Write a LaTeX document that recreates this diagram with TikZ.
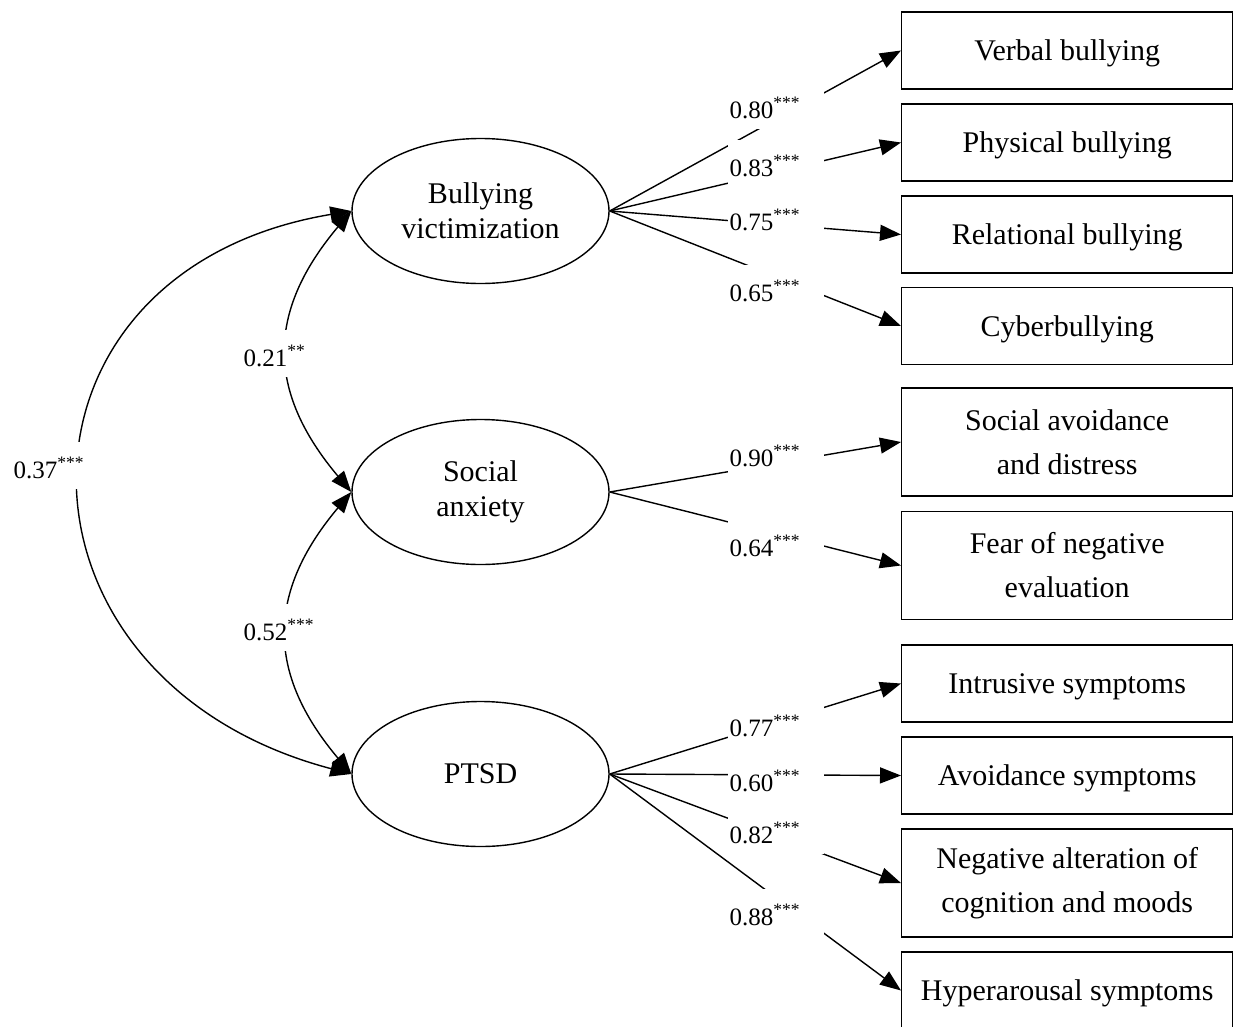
\documentclass[tikz,border=0pt]{standalone}
\usepackage{fontspec}
\setmainfont{Liberation Serif}
\usetikzlibrary{shapes.geometric,arrows.meta}
\begin{document}
\begin{tikzpicture}[x=1pt,y=1pt,line width=1.4pt,
  lat/.style={ellipse, draw, minimum width=257pt, minimum height=145pt, inner sep=0pt, align=center, font=\fontsize{30}{35}\selectfont},
  boxbase/.style={rectangle, draw, minimum width=331pt, inner sep=0pt, align=center, anchor=west, font=\fontsize{30}{44}\selectfont},
  obs/.style={boxbase, minimum height=77pt, text depth=0pt},
  obstwo/.style={boxbase, minimum height=108pt},
  lab/.style={fill=white, inner xsep=2pt, inner ysep=0pt, text width=92pt, align=left, text height=36pt, text depth=11pt, anchor=base west, font=\fontsize{25}{29}\selectfont},
  arr/.style={-{Triangle[length=21pt,width=16pt]}},
  cov/.style={{Triangle[length=21pt,width=16pt]}-{Triangle[length=21pt,width=16pt]}}
]
\useasboundingbox (0,0) rectangle (1234,-1026);
% latent variables
\node[lat] (bv) at (480.5,-211) {Bullying\\victimization};
\node[lat] (sa) at (480.5,-492) {Social\\anxiety};
\node[lat] (pt) at (480.5,-774) {PTSD};
% indicators
\node[obs] (o1) at (901,-50.5) {Verbal bullying};
\node[obs] (o2) at (901,-142.5) {Physical bullying};
\node[obs] (o3) at (901,-234.5) {Relational bullying};
\node[obs] (o4) at (901,-326) {Cyberbullying};
\node[obstwo] (o5) at (901,-442) {Social avoidance\\and distress};
\node[obstwo] (o6) at (901,-565.5) {Fear of negative\\evaluation};
\node[obs] (o7) at (901,-683.5) {Intrusive symptoms};
\node[obs] (o8) at (901,-775.5) {Avoidance symptoms};
\node[obstwo] (o9) at (901,-883) {Negative alteration of\\cognition and moods};
\node[obs] (o10) at (901,-990.5) {Hyperarousal symptoms};
% loadings
\foreach \o in {o1,o2,o3,o4} \draw[arr] (bv.east) -- (\o.west);
\foreach \o in {o5,o6} \draw[arr] (sa.east) -- (\o.west);
\foreach \o in {o7,o8,o9,o10} \draw[arr] (pt.east) -- (\o.west);
% covariances
\draw[cov] (bv.west) .. controls +(-360,-60) and +(-360,95) .. (pt.west);
\draw[cov] (bv.west) .. controls +(-85,-101) and +(-85,101) .. (sa.west);
\draw[cov] (sa.west) .. controls +(-85,-101) and +(-85,101) .. (pt.west);
% loading labels
\node[lab] (l1) at (727,-118) {0.80\textsuperscript{***}};
\node[lab] (l2) at (727,-176) {0.83\textsuperscript{***}};
\node[lab] (l3) at (727,-230) {0.75\textsuperscript{***}};
\node[lab] (l4) at (727,-301) {0.65\textsuperscript{***}};
\node[lab] (l5) at (727,-466) {0.90\textsuperscript{***}};
\node[lab] (l6) at (727,-556) {0.64\textsuperscript{***}};
\node[lab] (l7) at (727,-736) {0.77\textsuperscript{***}};
\node[lab] (l8) at (727,-791) {0.60\textsuperscript{***}};
\node[lab] (l9) at (727,-843) {0.82\textsuperscript{***}};
\node[lab] (l10) at (727,-925) {0.88\textsuperscript{***}};
% covariance labels
\node[lab] (c1) at (11,-478) {0.37\textsuperscript{***}};
\node[lab] (c2) at (241,-366) {0.21\textsuperscript{**}};
\node[lab] (c3) at (241,-640) {0.52\textsuperscript{***}};
\end{tikzpicture}
\end{document}
